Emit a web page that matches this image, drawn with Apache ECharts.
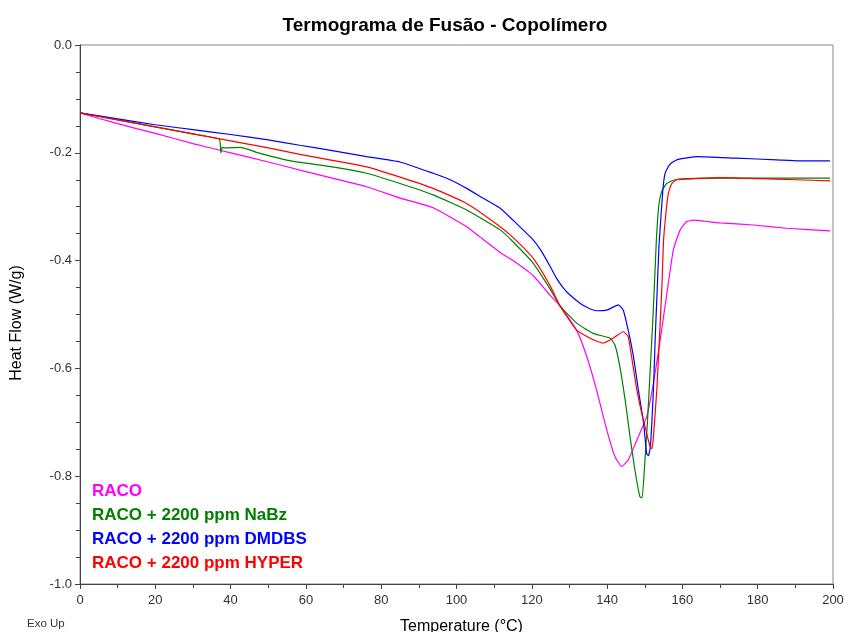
<!DOCTYPE html>
<html>
<head>
<meta charset="utf-8">
<script src="https://cdn.jsdelivr.net/npm/echarts@6/dist/echarts.min.js"></script>
<style>
html,body{margin:0;padding:0;background:#fff;}
#chart{width:845px;height:632px;}
</style>
</head>
<body>
<div id="chart"></div>
<script>
const seriesNames = ['RACO', 'RACO + 2200 ppm NaBz', 'RACO + 2200 ppm DMDBS', 'RACO + 2200 ppm HYPER'];
const seriesColors = ['#ff00ff', '#008000', '#0000ff', '#ff0000'];

const racoT = [0, 10, 20, 30, 40, 50, 58.4, 67, 76.1, 85, 93.8, 102.7, 106.2, 111.6, 115, 120.4, 124.8, 127.5, 131.9, 134.6, 137.2, 139.9, 142.1, 143.9, 145.6, 147.9, 150.5, 152.3, 154.1, 155.8, 157.6, 159.4, 161.1, 162.9, 166, 170, 178.8, 187.7, 199.2];
const racoV = [-0.126, -0.146, -0.164, -0.183, -0.200, -0.217, -0.232, -0.247, -0.263, -0.284, -0.302, -0.337, -0.356, -0.385, -0.400, -0.428, -0.464, -0.484, -0.529, -0.578, -0.640, -0.714, -0.764, -0.782, -0.770, -0.733, -0.690, -0.628, -0.547, -0.465, -0.380, -0.343, -0.328, -0.325, -0.327, -0.330, -0.334, -0.340, -0.345];

const nabzT = [0, 10, 20, 30, 37, 37.4, 37.8, 38.5, 42.5, 47.8, 56.7, 67, 76.1, 85, 93.8, 102.7, 111.6, 115, 120.4, 124.8, 127.5, 131.9, 136.3, 140.8, 142.1, 143.4, 144.8, 146.1, 147.4, 148.7, 149.3, 150, 150.7, 151.4, 152.1, 152.6, 153.1, 153.7, 154.5, 155.8, 157.6, 161, 170, 180, 190, 199.2];
const nabzV = [-0.126, -0.139, -0.152, -0.165, -0.175, -0.200, -0.190, -0.191, -0.190, -0.201, -0.216, -0.226, -0.238, -0.257, -0.278, -0.306, -0.343, -0.365, -0.405, -0.452, -0.484, -0.516, -0.535, -0.544, -0.557, -0.597, -0.659, -0.727, -0.789, -0.838, -0.840, -0.776, -0.702, -0.609, -0.516, -0.440, -0.360, -0.300, -0.272, -0.257, -0.251, -0.248, -0.247, -0.247, -0.247, -0.247];

const dmdbsT = [0, 10, 20, 30, 40, 50, 58.4, 67, 76.1, 85, 93.8, 98.3, 102.7, 107, 111.6, 115, 120.4, 122.5, 124.8, 126.5, 128.3, 130, 132.8, 135, 137.2, 139.9, 143, 144.3, 145.6, 147, 148.3, 149.7, 150.5, 151, 151.5, 152.3, 152.8, 153.3, 153.8, 154.8, 155.4, 156.7, 158.5, 164, 174.4, 185, 191, 199.2];
const dmdbsV = [-0.126, -0.137, -0.148, -0.157, -0.166, -0.176, -0.186, -0.196, -0.207, -0.217, -0.238, -0.250, -0.266, -0.284, -0.303, -0.325, -0.362, -0.382, -0.410, -0.432, -0.450, -0.463, -0.479, -0.488, -0.493, -0.492, -0.482, -0.492, -0.529, -0.578, -0.640, -0.702, -0.758, -0.762, -0.745, -0.640, -0.540, -0.455, -0.370, -0.270, -0.238, -0.221, -0.213, -0.207, -0.210, -0.213, -0.215, -0.215];

const hyperT = [0, 10, 20, 30, 40, 50, 58.4, 67, 76.1, 85, 93.8, 102.7, 111.6, 115, 120.4, 124.8, 127.5, 131.9, 136.3, 139, 141.6, 144.3, 145.6, 146.5, 147.9, 149.2, 150.5, 151.4, 151.9, 152.3, 153.2, 154.1, 154.6, 155, 155.8, 156.3, 157.2, 158.5, 170, 180, 190, 199.2];
const hyperV = [-0.126, -0.139, -0.152, -0.165, -0.178, -0.191, -0.203, -0.214, -0.226, -0.245, -0.266, -0.294, -0.337, -0.357, -0.396, -0.446, -0.484, -0.529, -0.547, -0.553, -0.544, -0.532, -0.541, -0.578, -0.640, -0.683, -0.720, -0.745, -0.749, -0.727, -0.640, -0.516, -0.440, -0.362, -0.300, -0.275, -0.257, -0.250, -0.246, -0.248, -0.250, -0.252];

const allT = [racoT, nabzT, dmdbsT, hyperT];
const allV = [racoV, nabzV, dmdbsV, hyperV];

const chart = echarts.init(document.getElementById('chart'), null, {renderer: 'canvas'});
const font = 'Arial, "Liberation Sans", sans-serif';

const series = seriesNames.map((name, k) => ({
  name: name,
  type: 'line',
  data: allT[k].map((t, i) => [t, allV[k][i]]),
  showSymbol: false,
  symbol: 'none',
  smooth: 0.15,
  lineStyle: {color: seriesColors[k], width: 1.2},
  itemStyle: {color: seriesColors[k]},
  z: 3 + k
}));

chart.setOption({
  animation: false,
  backgroundColor: '#fff',
  title: {
    text: 'Termograma de Fusão - Copolímero',
    left: 440, top: 11, textAlign: 'center',
    textStyle: {fontFamily: font, fontSize: 19, fontWeight: 'bold', color: '#000'}
  },
  grid: {left: 80, width: 753, top: 45, height: 539, outerBoundsMode: 'none', containLabel: false,
         show: true, borderColor: '#888', borderWidth: 1, backgroundColor: 'transparent'},
  legend: {
    orient: 'vertical', left: 82, top: 478, itemWidth: 0, itemHeight: 0, itemGap: 7.1,
    icon: 'rect', selectedMode: false,
    data: seriesNames.map((n, k) => ({name: n, textStyle: {color: seriesColors[k]}})),
    textStyle: {fontFamily: font, fontSize: 17, fontWeight: 'bold'}
  },
  xAxis: {
    type: 'value', min: 0, max: 200, interval: 20,
    name: 'Temperature (°C)', nameLocation: 'middle', nameGap: 35,
    nameTextStyle: {fontFamily: font, fontSize: 16, color: '#000', padding: [0, 0, 0, 10]},
    axisLine: {show: true, onZero: false, lineStyle: {color: '#444', width: 1}},
    axisTick: {show: true, inside: false, length: 5, lineStyle: {color: '#444'}},
    minorTick: {show: true, splitNumber: 2, length: 4, lineStyle: {color: '#444'}},
    axisLabel: {fontFamily: font, fontSize: 13, color: '#333', margin: 10},
    splitLine: {show: false}
  },
  yAxis: {
    type: 'value', min: -1, max: 0, interval: 0.2,
    axisLine: {show: true, onZero: false, lineStyle: {color: '#444', width: 1}},
    axisTick: {show: true, inside: false, length: 5, lineStyle: {color: '#444'}},
    minorTick: {show: true, splitNumber: 4, length: 4, lineStyle: {color: '#444'}},
    axisLabel: {fontFamily: font, fontSize: 13, color: '#333', margin: 8, formatter: v => v.toFixed(1)},
    splitLine: {show: false}
  },
  graphic: [{
    type: 'text', x: 17, y: 323, rotation: Math.PI / 2,
    style: {text: 'Heat Flow (W/g)', fontFamily: font, fontSize: 16, fill: '#000', textAlign: 'center', textVerticalAlign: 'middle'}
  }, {
    type: 'text', left: 27, top: 618,
    style: {text: 'Exo Up', fontFamily: font, fontSize: 11.5, fill: '#333'}
  }],
  series: series
});
</script>
</body>
</html>
